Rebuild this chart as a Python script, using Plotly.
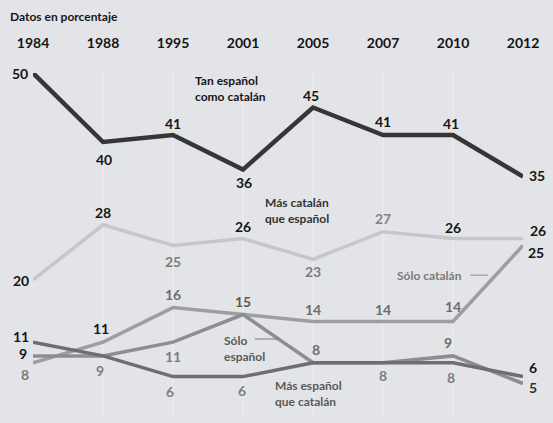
import plotly.graph_objects as go

years = ["1984", "1988", "1995", "2001", "2005", "2007", "2010", "2012"]
tan_esp_cat = [50, 40, 41, 36, 45, 41, 41, 35]
mas_cat_esp = [20, 28, 25, 26, 23, 27, 26, 26]
solo_cat = [8, 11, 16, 15, 14, 14, 14, 25]
solo_esp = [9, 9, 11, 15, 8, 8, 9, 5]
mas_esp_cat = [11, 9, 6, 6, 8, 8, 8, 6]

xs = list(range(len(years)))
FONT = "Lato"
BLACK = "#151515"
G1, G2, G3 = "#5a5a5a", "#6c6c6c", "#7c7c7c"

fig = go.Figure()
annotations = []


def add_series(vals, color, width, offsets, tcolors, hide=()):
    fig.add_trace(go.Scatter(
        x=xs, y=vals, mode="lines",
        line=dict(color=color, width=width),
        hoverinfo="skip", showlegend=False,
    ))
    for i, v in enumerate(vals):
        if i in hide:
            continue
        dx, dy = offsets[i]
        annotations.append(dict(
            x=xs[i], y=v, xref="x", yref="y", text=str(v), showarrow=False,
            xanchor="center", yanchor="middle", xshift=dx, yshift=-dy,
            font=dict(family=FONT, size=14, color=tcolors[i], weight="bold"),
        ))


add_series(mas_cat_esp, "#c5c7cb", 3.5,
           [(-12, 0), (0, -12), (0, 16), (0, -12), (0, 12), (0, -13), (0, -11), (15, -8)],
           [BLACK, BLACK, G3, BLACK, G3, "#858585", BLACK, BLACK])
add_series(solo_cat, "#9c9ea2", 3.5,
           [(-8, 12), (-2, -14), (0, -13), (0, -13), (0, -12), (0, -12), (0, -15), (13, 7)],
           [G3, BLACK, G2, G1, G2, G2, G2, BLACK])
add_series(solo_esp, "#8c8e92", 3.5,
           [(-10, -2), (-3, 15), (0, 14), (0, 0), (3, -13), (0, 0), (-5, -13), (10, 4)],
           [BLACK, G3, G3, G1, G2, G2, G2, "#333"], hide=(3, 5))
add_series(mas_esp_cat, "#6c6e72", 3.5,
           [(-12, -6), (0, 0), (-3, 15), (-1, 14), (0, 0), (0, 13), (-2, 15), (10, -9)],
           [BLACK, G3, G3, G3, G2, G3, G3, BLACK], hide=(1, 4))
add_series(tan_esp_cat, "#363636", 4.5,
           [(-13, 0), (1, 17), (0, -12), (1, 13), (-2, -12), (0, -14), (-2, -12), (14, -1)],
           [BLACK] * 8)

ann_font = dict(family=FONT, size=12, weight="bold")
series_names = [
    dict(x=2.29, y=47.7, text="Tan español<br>como catalán",
         font=dict(**ann_font, color=BLACK)),
    dict(x=3.29, y=30.1, text="Más catalán<br>que español",
         font=dict(**ann_font, color="#333")),
    dict(x=5.17, y=20.7, text="Sólo catalán",
         font=dict(**ann_font, color="#7a7a7a")),
    dict(x=2.70, y=10.1, text="Sólo<br>español",
         font=dict(**ann_font, color=G1)),
    dict(x=3.43, y=3.5, text="Más español<br>que catalán",
         font=dict(**ann_font, color=G1)),
]
for a in series_names:
    a.update(xref="x", yref="y", xanchor="left", yanchor="middle",
             showarrow=False, align="left")
annotations.extend(series_names)

shapes = [
    dict(type="line", xref="x", yref="y", x0=6.25, x1=6.5, y0=20.7, y1=20.7,
         line=dict(color="#8a8a8a", width=1)),
    dict(type="line", xref="x", yref="y", x0=3.17, x1=3.5, y0=11.45, y1=11.45,
         line=dict(color="#7a7a7a", width=1)),
]

fig.update_layout(
    width=553, height=423,
    margin=dict(l=33, r=30, t=73, b=5),
    paper_bgcolor="#e3e4e8", plot_bgcolor="#e3e4e8",
    title=dict(text="<b>Datos en porcentaje</b>", x=10 / 553, xref="container",
               xanchor="left", y=1 - 17 / 423, yanchor="middle",
               font=dict(family=FONT, size=12, color=BLACK)),
    xaxis=dict(range=[0, 7], tickvals=xs, ticktext=years, side="top",
               showgrid=True, gridcolor="#e8e9ec", gridwidth=1.5,
               zeroline=False, showline=False,
               ticks="outside", ticklen=18, tickcolor="rgba(0,0,0,0)",
               tickfont=dict(family=FONT, size=14, color=BLACK, weight="bold")),
    yaxis=dict(range=[0, 50], visible=False, showgrid=False, zeroline=False),
    annotations=annotations,
    shapes=shapes,
)

fig.write_html("out.html", config={"displayModeBar": False},
               post_script="document.body.style.margin='0';"
                           "document.body.style.overflow='hidden';")
